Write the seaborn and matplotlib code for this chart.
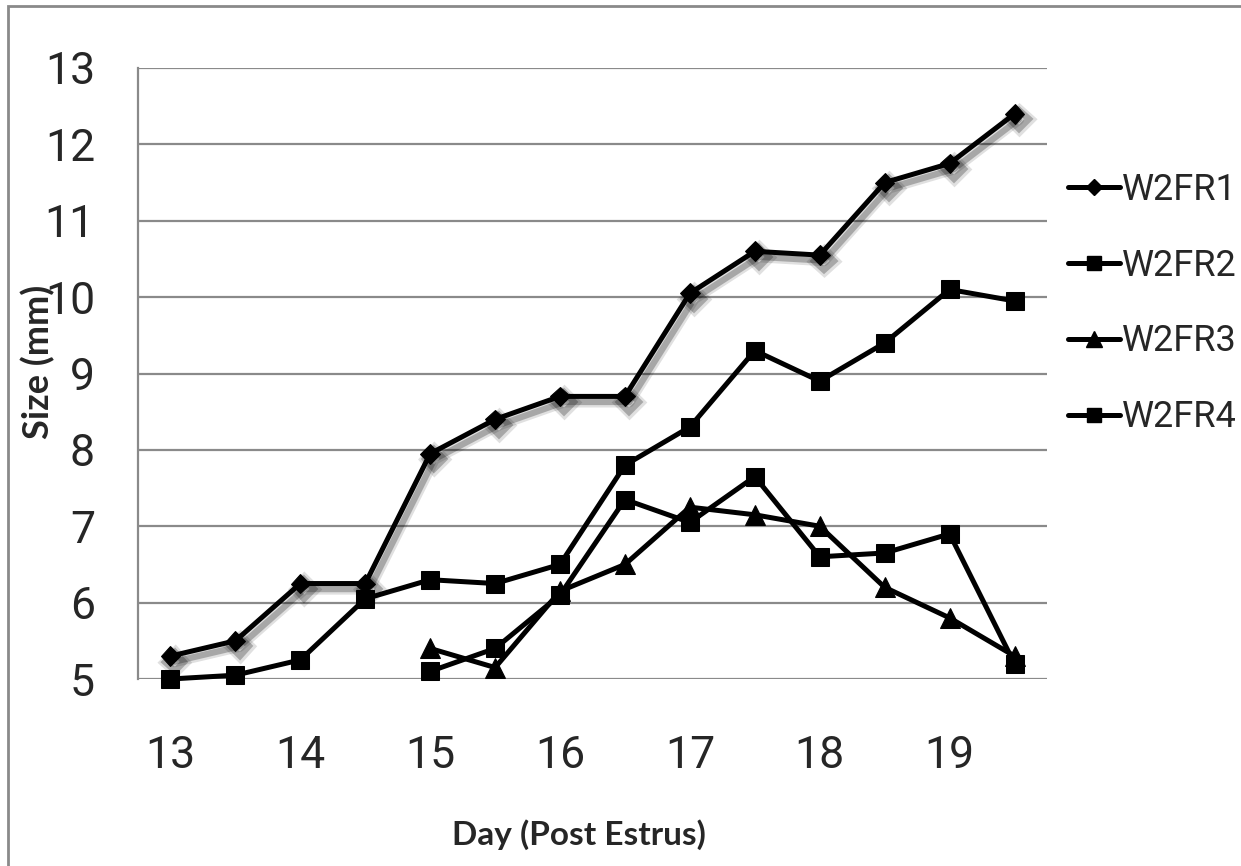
import numpy as np
import pandas as pd
import matplotlib
matplotlib.use("Agg")
import matplotlib.pyplot as plt
import matplotlib.patheffects as pe
from matplotlib.patches import Rectangle
from matplotlib.lines import Line2D
import seaborn as sns

# ---- data ----
days = [13, 13.5, 14, 14.5, 15, 15.5, 16, 16.5, 17, 17.5, 18, 18.5, 19, 19.5]
w2fr1 = [5.3, 5.5, 6.25, 6.25, 7.95, 8.4, 8.7, 8.7, 10.05, 10.6, 10.55, 11.5, 11.75, 12.4]
w2fr2 = [5.0, 5.05, 5.25, 6.05, 6.3, 6.25, 6.5, 7.8, 8.3, 9.3, 8.9, 9.4, 10.1, 9.95]
w2fr3 = [np.nan, np.nan, np.nan, np.nan, 5.4, 5.15, 6.15, 6.5, 7.25, 7.15, 7.0, 6.2, 5.8, 5.3]
w2fr4 = [np.nan, np.nan, np.nan, np.nan, 5.1, 5.4, 6.1, 7.35, 7.05, 7.65, 6.6, 6.65, 6.9, 5.2]
series_names = ["W2FR1", "W2FR2", "W2FR3", "W2FR4"]
y_ticks = [5, 6, 7, 8, 9, 10, 11, 12, 13]
x_ticks = [13, 14, 15, 16, 17, 18, 19]

sns.set_theme(style="white")
plt.rcParams['font.family'] = ['Roboto', 'DejaVu Sans']

fig = plt.figure(figsize=(12.41, 8.66), dpi=100)
ax = fig.add_axes([138/1241, 1 - 679/866, (1047-138)/1241, (679-68)/866])

styles = {
    "W2FR1": dict(marker="D", markersize=10),
    "W2FR2": dict(marker="s", markersize=13),
    "W2FR3": dict(marker="^", markersize=14),
    "W2FR4": dict(marker="s", markersize=13),
}
values = {"W2FR1": w2fr1, "W2FR2": w2fr2, "W2FR3": w2fr3, "W2FR4": w2fr4}

shadow = [
    pe.SimpleLineShadow(offset=(3, -4), shadow_color="black", alpha=0.12, linewidth=8),
    pe.SimpleLineShadow(offset=(3, -4), shadow_color="black", alpha=0.25, linewidth=4.5),
    pe.Normal(),
]

for name in series_names:
    df = pd.DataFrame({"day": days, "size": values[name]}).dropna()
    kw = dict(styles[name])
    if name == "W2FR1":
        kw["path_effects"] = shadow
    sns.lineplot(data=df, x="day", y="size", ax=ax, color="black", linewidth=3.6,
                 markeredgecolor="black", markerfacecolor="black", label=name,
                 legend=False, clip_on=False, **kw)

ax.set_xlim(12.75, 19.75)
ax.set_ylim(5, 13)
ax.set_yticks(y_ticks)
ax.set_xticks(x_ticks)
ax.set_yticklabels([str(v) for v in y_ticks], fontsize=32)
ax.set_xticklabels([str(v) for v in x_ticks], fontsize=32)
ax.tick_params(axis="y", length=0, pad=31)
ax.tick_params(axis="x", length=0, pad=40)
ax.grid(axis="y", color="#8a8a8a", linewidth=1.6)
ax.grid(axis="x", visible=False)
for s in ["top", "right", "bottom"]:
    ax.spines[s].set_visible(False)
ax.spines["left"].set_color("#8a8a8a")
ax.spines["left"].set_linewidth(1.6)
ax.set_xlabel("")
ax.set_ylabel("")
ax.set_axisbelow(True)

fig.text(579/1241, 1 - 835/866, "Day (Post Estrus)", ha="center", va="center",
         fontsize=24, fontweight="bold", family=["Lato", "DejaVu Sans"])
fig.text(38/1241, 1 - 362/866, "Size (mm)", ha="center", va="center", rotation=90,
         fontsize=26, fontweight="bold", family=["Lato", "DejaVu Sans"])

handles = [Line2D([], [], color="black", linewidth=3.6, markeredgecolor="black",
                  markerfacecolor="black", **{k: (v * 0.8 if k == "markersize" else v)
                                              for k, v in styles[n].items()})
           for n in series_names]
fig.legend(handles, series_names, loc="upper left",
           bbox_to_anchor=(1068/1241, 1 - 172/866), frameon=False,
           fontsize=26, handlelength=1.45, handletextpad=0.05, labelspacing=1.1,
           borderpad=0, borderaxespad=0)

fig.add_artist(Rectangle((8/1241, -0.05), 1.2, 1 - 6/866 + 0.05, transform=fig.transFigure,
                         fill=False, edgecolor="#8a8a8a", linewidth=2))

fig.savefig("out.png", dpi=100)
